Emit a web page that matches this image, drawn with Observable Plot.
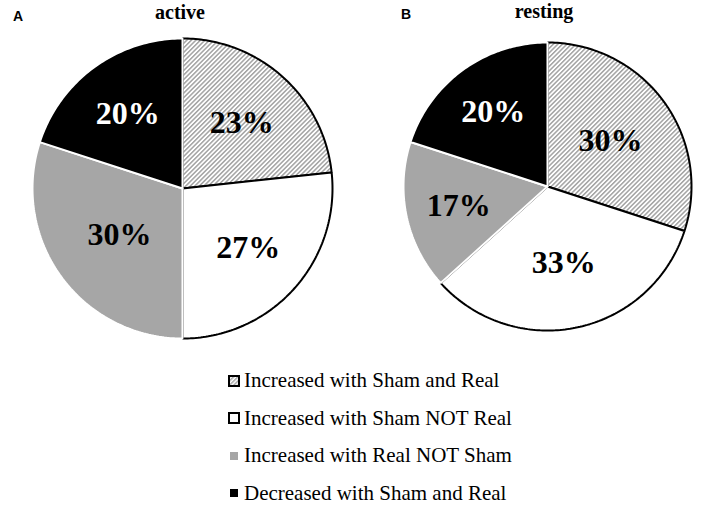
<!DOCTYPE html>
<html>
<head>
<meta charset="utf-8">
<script src="https://cdn.jsdelivr.net/npm/d3@7"></script>
<script src="https://cdn.jsdelivr.net/npm/@observablehq/plot@0.6"></script>
<style>
  html, body { margin: 0; padding: 0; background: #fff; }
  #root { position: relative; width: 708px; height: 522px; overflow: hidden; }
  .pie { position: absolute; }
  .title { position: absolute; font-family: "Liberation Serif", "Times New Roman", serif; font-weight: bold; font-size: 20px; transform: translateX(-50%); line-height: 1; }
  .letter { position: absolute; font-family: "Liberation Sans", Arial, sans-serif; font-weight: bold; font-size: 14px; line-height: 1; }
  #legend { position: absolute; left: 227px; top: 362px; font-family: "Liberation Serif", "Times New Roman", serif; font-size: 21px; }
  .row { display: flex; align-items: center; height: 37.5px; }
  .row svg { margin-right: 3px; }
</style>
</head>
<body>
<div id="root"></div>
<script>
// ---- data ----
const categories = [
  "Increased with Sham and Real",
  "Increased with Sham NOT Real",
  "Increased with Real NOT Sham",
  "Decreased with Sham and Real"
];
const activeValues = [23.3, 26.7, 30, 20];
const restingValues = [30, 33.3, 16.7, 20];
const activeLabels = ["23%", "27%", "30%", "20%"];
const restingLabels = ["30%", "33%", "17%", "20%"];
const panelTitles = ["active", "resting"];
const panelLetters = ["A", "B"];

// ---- styles / layout ----
const fills = ["url(#hatch)", "#ffffff", "#a6a6a6", "#000000"];
const strokes = ["#000000", "#000000", "#ffffff", "#ffffff"];
const labelFills = ["#000000", "#000000", "#000000", "#ffffff"];
const labelRadiusA = [0.59, 0.59, 0.52, 0.62];
const labelRadiusB = [0.54, 0.54, 0.63, 0.64];

const root = document.getElementById("root");

function piePoints(values) {
  const total = d3.sum(values);
  const pts = [];
  const mids = [];
  let start = 0;
  values.forEach((v, i) => {
    const a0 = start / total * 2 * Math.PI;
    const a1 = (start + v) / total * 2 * Math.PI;
    const n = Math.max(2, Math.ceil((a1 - a0) / (Math.PI / 180)));
    pts.push({cat: i, x: 0, y: 0});
    for (let k = 0; k <= n; k++) {
      const a = a0 + (a1 - a0) * k / n;
      pts.push({cat: i, x: Math.sin(a), y: Math.cos(a)});
    }
    pts.push({cat: i, x: 0, y: 0});
    mids.push((a0 + a1) / 2);
    start += v;
  });
  return {pts, mids};
}

function drawPie(values, labels, cx, cy, r, labelR, id) {
  const pad = 4;
  const size = 2 * r + 2 * pad;
  const {pts, mids} = piePoints(values);
  const labelData = labels.map((t, i) => ({
    text: t, cat: i,
    x: labelR[i] * Math.sin(mids[i]), y: labelR[i] * Math.cos(mids[i])
  }));
  const hatchId = "hatch" + id;
  const marks = categories.map((c, i) =>
    Plot.line(pts.filter(d => d.cat === i), {
      x: "x", y: "y", fill: fills[i].replace("#hatch", "#" + hatchId), stroke: strokes[i],
      strokeWidth: 2, strokeLinejoin: "miter", curve: "linear"
    })
  );
  marks.push(Plot.text(labelData, {
    x: "x", y: "y", text: "text",
    fill: d => labelFills[d.cat],
    fontSize: 32, fontWeight: "bold",
    fontFamily: "Liberation Serif, Times New Roman, serif"
  }));
  const chart = Plot.plot({
    width: size, height: size,
    margin: pad,
    x: {domain: [-1, 1], axis: null},
    y: {domain: [-1, 1], axis: null},
    style: {background: "transparent", overflow: "visible"},
    marks
  });
  const defs = d3.select(chart).insert("defs", ":first-child");
  const w = 3.2;
  const pat = defs.append("pattern")
    .attr("id", hatchId).attr("patternUnits", "userSpaceOnUse")
    .attr("width", w).attr("height", w)
    .attr("patternTransform", "rotate(45)");
  pat.append("rect").attr("width", w).attr("height", w).attr("fill", "#fff");
  pat.append("rect").attr("x", 0).attr("y", 0).attr("width", 1.5).attr("height", w)
    .attr("fill", "#a3a3a3");
  chart.classList.add("pie");
  chart.style.left = (cx - r - pad) + "px";
  chart.style.top = (cy - r - pad) + "px";
  root.appendChild(chart);
}

drawPie(activeValues, activeLabels, 182, 188, 150, labelRadiusA, "A");
drawPie(restingValues, restingLabels, 547, 185.5, 144, labelRadiusB, "B");

// titles
[[180, 2], [544, 1]].forEach(([x, y], i) => {
  const t = document.createElement("div");
  t.className = "title"; t.textContent = panelTitles[i];
  t.style.left = x + "px"; t.style.top = y + "px";
  root.appendChild(t);
});
[[13, 9], [401, 7]].forEach(([x, y], i) => {
  const t = document.createElement("div");
  t.className = "letter"; t.textContent = panelLetters[i];
  t.style.left = x + "px"; t.style.top = y + "px";
  root.appendChild(t);
});

// legend
const legend = document.createElement("div");
legend.id = "legend";
const swatches = [
  `<svg width="14" height="14"><defs><pattern id="lgh" patternUnits="userSpaceOnUse" width="3" height="3" patternTransform="rotate(45)"><rect width="3" height="3" fill="#fff"/><rect width="1.4" height="3" fill="#a0a0a0"/></pattern></defs><rect x="2" y="2" width="10" height="10" fill="url(#lgh)" stroke="#000" stroke-width="2"/></svg>`,
  `<svg width="14" height="14"><rect x="2" y="2" width="10" height="10" fill="#fff" stroke="#000" stroke-width="2"/></svg>`,
  `<svg width="14" height="14"><rect x="3" y="3" width="8" height="8" fill="#a6a6a6"/></svg>`,
  `<svg width="14" height="14"><rect x="3" y="3" width="8" height="8" fill="#000"/></svg>`
];
categories.forEach((c, i) => {
  const row = document.createElement("div");
  row.className = "row";
  row.innerHTML = swatches[i] + `<span>${c}</span>`;
  legend.appendChild(row);
});
root.appendChild(legend);
</script>
</body>
</html>
